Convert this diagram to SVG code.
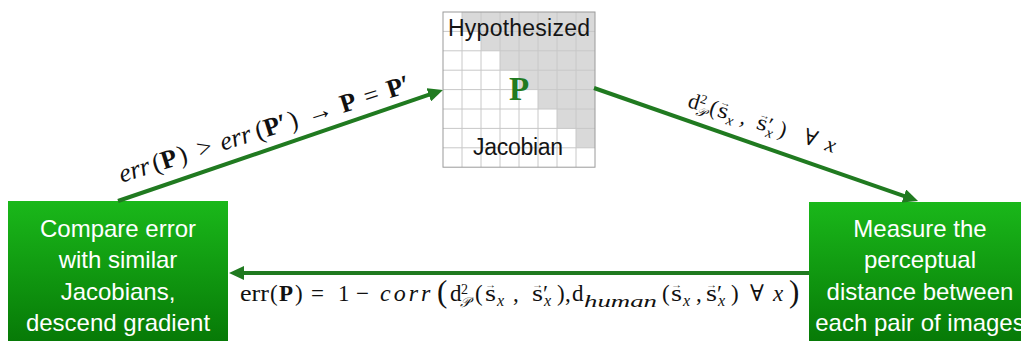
<svg xmlns="http://www.w3.org/2000/svg" width="1021" height="341" viewBox="0 0 1021 341">
<style>
.box{fill:url(#g)}
.bt{font-family:"Liberation Sans",Arial,sans-serif;font-size:24px;fill:#fff;text-anchor:middle}
.gl{font-family:"Liberation Sans",Arial,sans-serif;font-size:23px;fill:#151515;text-anchor:middle}
.m{font-family:"Liberation Serif","DejaVu Serif",serif;fill:#111}
.i{font-style:italic}
.b{font-weight:bold}
.va{font-size:10px}
.conn{stroke:#207a20;stroke-width:4;fill:none}
.gridl{stroke:#c8c8c8;stroke-width:1}
</style>
<defs>
<linearGradient id="g" x1="0" y1="201" x2="0" y2="341" gradientUnits="userSpaceOnUse">
<stop offset="0" stop-color="#1ab81a"/>
<stop offset="1" stop-color="#077a07"/>
</linearGradient>
<marker id="ah" markerUnits="userSpaceOnUse" markerWidth="16" markerHeight="14" refX="5" refY="7" orient="auto" viewBox="0 0 16 14">
<path d="M0,0 L15,7 L0,14 z" fill="#207a20"/>
</marker>
</defs>
<rect width="1021" height="341" fill="#fff"/>

<g id="node-jacobian">
<rect x="443" y="12" width="152" height="155.2" fill="#fff"/>
<polygon points="462,12 595,12 595,147.8 576,147.8 576,128.4 557,128.4 557,109 538,109 538,89.6 519,89.6 519,70.2 500,70.2 500,50.8 481,50.8 481,31.4 462,31.4" fill="#d9d9d9"/>
<g class="gridl">
<line x1="462" y1="12" x2="462" y2="167.2"/><line x1="481" y1="12" x2="481" y2="167.2"/>
<line x1="500" y1="12" x2="500" y2="167.2"/><line x1="519" y1="12" x2="519" y2="167.2"/>
<line x1="538" y1="12" x2="538" y2="167.2"/><line x1="557" y1="12" x2="557" y2="167.2"/>
<line x1="576" y1="12" x2="576" y2="167.2"/>
<line x1="443" y1="31.4" x2="595" y2="31.4"/><line x1="443" y1="50.8" x2="595" y2="50.8"/>
<line x1="443" y1="70.2" x2="595" y2="70.2"/><line x1="443" y1="89.6" x2="595" y2="89.6"/>
<line x1="443" y1="109" x2="595" y2="109"/><line x1="443" y1="128.4" x2="595" y2="128.4"/>
<line x1="443" y1="147.8" x2="595" y2="147.8"/>
</g>
<rect x="443" y="12" width="152" height="155.2" fill="none" stroke="#9a9a9a" stroke-width="1"/>
<text class="gl" x="519" y="36" textLength="142">Hypothesized</text>
<text x="519" y="100" font-family="Liberation Serif,serif" font-weight="bold" font-size="33" fill="#207a20" text-anchor="middle">P</text>
<text class="gl" x="518" y="155" textLength="90">Jacobian</text>
</g>

<g id="node-compare">
<rect class="box" x="8" y="201" width="220" height="145"/>
<text class="bt" x="118" y="237">Compare error</text>
<text class="bt" x="118" y="268">with similar</text>
<text class="bt" x="118" y="300">Jacobians,</text>
<text class="bt" x="118" y="331">descend gradient</text>
</g>

<g id="node-measure">
<rect class="box" x="809" y="202" width="225" height="145"/>
<text class="bt" x="920" y="237">Measure the</text>
<text class="bt" x="920" y="268">perceptual</text>
<text class="bt" x="920" y="300">distance between</text>
<text class="bt" x="920" y="331">each pair of images</text>
</g>

<g id="connectors">
<line class="conn" x1="118" y1="201" x2="433.5" y2="93.2" marker-end="url(#ah)"/>
<line class="conn" x1="594" y1="88" x2="908.6" y2="197.7" marker-end="url(#ah)"/>
<line class="conn" x1="809" y1="273" x2="239" y2="273" marker-end="url(#ah)"/>
</g>

<g id="label-update" class="m" font-size="26" transform="translate(121.7,182.7) rotate(-17.5)">
<text x="0" class="i">err</text>
<text x="35">(</text>
<text x="44" class="b">P</text>
<text x="62">)</text>
<text x="82">&gt;</text>
<text x="106" class="i">err</text>
<text x="143">(</text>
<text x="152" class="b">P′</text>
<text x="178">)</text>
<text x="197">→</text>
<text x="232" class="b">P</text>
<text x="257">=</text>
<text x="281" class="b">P′</text>
</g>

<g id="label-distance" class="m" font-size="22" transform="translate(686.7,106.7) rotate(17.5)">
<text x="0">d</text>
<text x="11" y="-8" font-size="13">2</text>
<text x="10.5" y="5" font-size="13" class="i">𝒫</text>
<text x="22.5">(</text>
<text x="31" textLength="10.5" lengthAdjust="spacingAndGlyphs">s</text>
<text x="31" y="-12" class="va" textLength="10.5" lengthAdjust="spacingAndGlyphs">→</text>
<text x="42" y="5" font-size="15" class="i">x</text>
<text x="55">,</text>
<text x="72" textLength="10.5" lengthAdjust="spacingAndGlyphs">s</text>
<text x="72" y="-12" class="va" textLength="10.5" lengthAdjust="spacingAndGlyphs">→</text>
<text x="82.5">′</text>
<text x="83.5" y="5" font-size="15" class="i">x</text>
<text x="95">)</text>
<text x="121">∀</text>
<text x="144" class="i">x</text>
</g>

<g id="label-error" class="m" font-size="23">
<text x="240" y="301" textLength="29" lengthAdjust="spacingAndGlyphs">err</text>
<text x="270" y="301">(</text>
<text x="279" y="301" class="b">P</text>
<text x="295" y="301">)</text>
<text x="311" y="301">=</text>
<text x="338" y="301">1</text>
<text x="356" y="301">−</text>
<text x="380" y="301" class="i" font-size="24" letter-spacing="3">corr</text>
<text x="437" y="302" font-size="31">(</text>
<text x="450" y="301">d</text>
<text x="461" y="294" font-size="14">2</text>
<text x="460" y="307" font-size="14" class="i">𝒫</text>
<text x="475" y="301">(</text>
<text x="485" y="301" textLength="11" lengthAdjust="spacingAndGlyphs">s</text>
<text x="485" y="288" class="va" textLength="11" lengthAdjust="spacingAndGlyphs">→</text>
<text x="497" y="306" font-size="16" class="i">x</text>
<text x="513" y="301">,</text>
<text x="532" y="301" textLength="11" lengthAdjust="spacingAndGlyphs">s</text>
<text x="532" y="288" class="va" textLength="11" lengthAdjust="spacingAndGlyphs">→</text>
<text x="543" y="301">′</text>
<text x="544" y="306" font-size="16" class="i">x</text>
<text x="557" y="301">)</text>
<text x="565" y="301">,</text>
<text x="572" y="301">d</text>
<text x="584" y="307" font-size="17" class="i" textLength="73" lengthAdjust="spacingAndGlyphs">human</text>
<text x="662" y="301">(</text>
<text x="671" y="301" textLength="11" lengthAdjust="spacingAndGlyphs">s</text>
<text x="671" y="288" class="va" textLength="11" lengthAdjust="spacingAndGlyphs">→</text>
<text x="683" y="306" font-size="16" class="i">x</text>
<text x="696" y="301">,</text>
<text x="706" y="301" textLength="11" lengthAdjust="spacingAndGlyphs">s</text>
<text x="706" y="288" class="va" textLength="11" lengthAdjust="spacingAndGlyphs">→</text>
<text x="717" y="301">′</text>
<text x="718" y="306" font-size="16" class="i">x</text>
<text x="731" y="301">)</text>
<text x="750" y="301">∀</text>
<text x="773" y="301" class="i">x</text>
<text x="789" y="302" font-size="31">)</text>
</g>
</svg>
